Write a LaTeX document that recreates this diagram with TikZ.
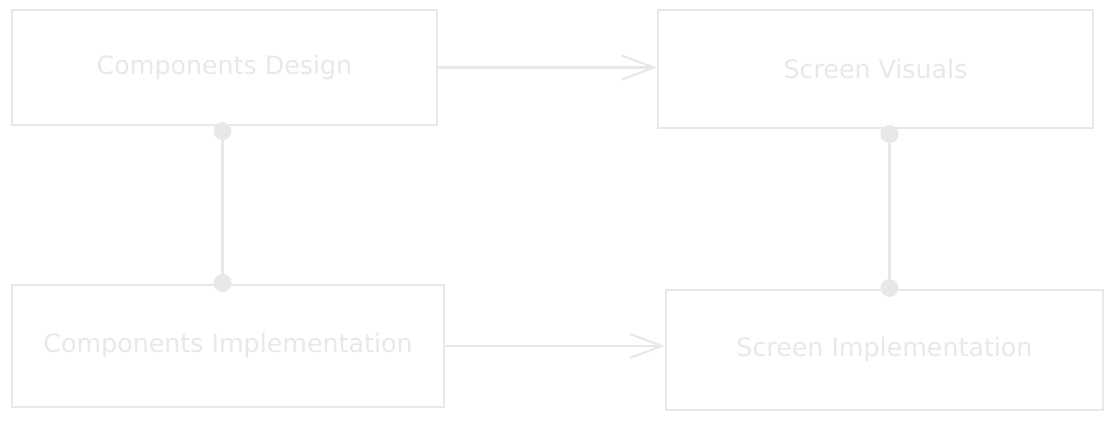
\documentclass[tikz,border=0pt]{standalone}
\usepackage{fontspec}
\setmainfont{DejaVu Sans}
\usetikzlibrary{arrows.meta}
\definecolor{sketchgray}{RGB}{232,232,232}
\tikzset{
  block/.style={draw=sketchgray, line width=1.5pt, text=sketchgray,
    font=\fontsize{18}{20}\selectfont, inner sep=0pt},
  link/.style={draw=sketchgray, line width=1.5pt},
}
\begin{document}
\begin{tikzpicture}[x=0.025cm,y=-0.025cm]
      \useasboundingbox (0,0) rectangle (1112,421);
      \node [block, minimum width=10.625cm, minimum height=2.875cm] (cd) at (224.5,67.5) {Components Design};
      \node [block, minimum width=10.875cm, minimum height=2.95cm] (sv) at (875.5,69) {Screen Visuals};
      \node [block, minimum width=10.8cm, minimum height=3.05cm] (ci) at (228,346) {Components Implementation};
      \node [block, minimum width=10.925cm, minimum height=3cm] (si) at (884.5,350) {Screen Implementation};
      \draw [link, -{Straight Barb[length=0.8cm, width=0.6cm]}] (cd.east) -- (cd.east -| sv.west);
      \draw [link, -{Straight Barb[length=0.8cm, width=0.6cm]}] (ci.east) -- (ci.east -| si.west);
      \draw [link, shorten <=-0.1cm, shorten >=-0.2cm, {Circle[length=0.45cm]}-{Circle[length=0.45cm]}] ([xshift=-0.05cm]cd.south) -- ([xshift=-0.05cm]cd.south |- ci.north);
      \draw [link, shorten <=-0.1cm, shorten >=-0.2cm, {Circle[length=0.45cm]}-{Circle[length=0.45cm]}] ([xshift=0.35cm]sv.south) -- ([xshift=0.35cm]sv.south |- si.north);
    \end{tikzpicture}
\end{document}
